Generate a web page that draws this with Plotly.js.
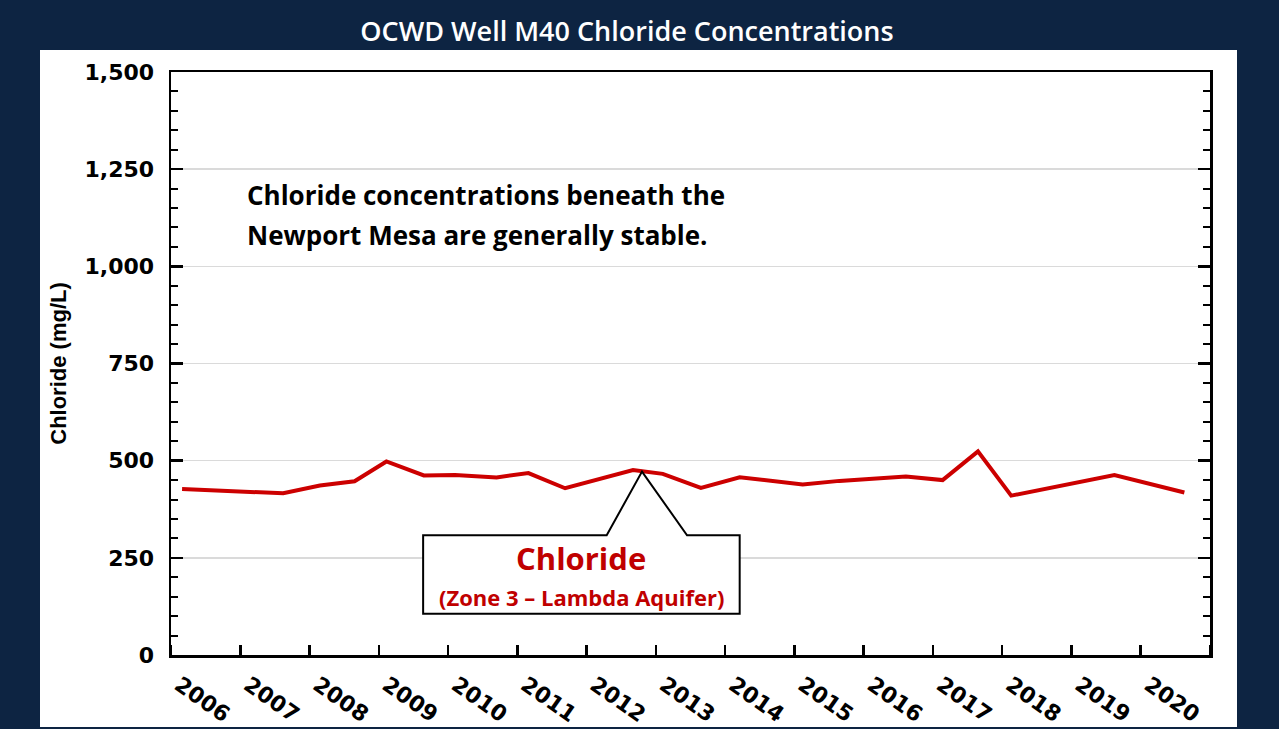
<!DOCTYPE html>
<html>
<head>
<meta charset="utf-8">
<script src="https://cdn.plot.ly/plotly-3.0.1.min.js"></script>
<style>
  html, body { margin: 0; padding: 0; background: #0d2442; }
  #chart { width: 1279px; height: 729px; }
</style>
</head>
<body>
<div id="chart"></div>
<script>
// ---- Data ----
const sampleDates = [2006.16, 2007.62, 2008.15, 2008.65, 2009.11, 2009.65, 2010.10, 2010.70,
                     2011.16, 2011.69, 2012.67, 2013.10, 2013.65, 2014.21, 2015.12, 2015.65,
                     2016.61, 2017.14, 2017.65, 2018.13, 2019.62, 2020.63];
const chlorideMgL = [427, 416, 436, 447, 498, 462, 463, 457,
                     468, 429, 476, 466, 430, 457, 439, 448,
                     459, 450, 524, 410, 463, 418];
const yearLabels = [2006, 2007, 2008, 2009, 2010, 2011, 2012, 2013, 2014, 2015, 2016, 2017, 2018, 2019, 2020];
const titleText = 'OCWD Well M40 Chloride Concentrations';
const yTitleText = 'Chloride (mg/L)';
const noteLines = ['Chloride concentrations beneath the', 'Newport Mesa are generally stable.'];
const seriesName = 'Chloride';
const seriesSub = '(Zone 3 \u2013 Lambda Aquifer)';

// ---- Styling / layout constants ----
const NAVY = '#0d2442';
const RED = '#cc0000';
const tickFont = {family: 'DejaVu Sans', size: 22, color: '#000', weight: 'bold'};

// callout geometry (layout, in axis units)
const box = {x0: 2009.64, x1: 2014.21, y0: 106, y1: 308, bx0: 2012.29, bx1: 2013.45, ax: 2012.8, ay: 472};
const calloutPath = `M ${box.bx0},${box.y1} L ${box.x0},${box.y1} L ${box.x0},${box.y0} L ${box.x1},${box.y0} ` +
                    `L ${box.x1},${box.y1} L ${box.bx1},${box.y1} L ${box.ax},${box.ay} Z`;
const boxCx = (box.x0 + box.x1) / 2;

const trace = {
  x: sampleDates,
  y: chlorideMgL,
  type: 'scatter',
  mode: 'lines',
  line: {color: RED, width: 4},
  hoverinfo: 'x+y',
  showlegend: false
};

const layout = {
  width: 1279,
  height: 729,
  paper_bgcolor: NAVY,
  plot_bgcolor: '#ffffff',
  margin: {l: 171, r: 69, t: 72, b: 74, pad: 0},
  showlegend: false,
  title: {
    text: titleText,
    font: {family: 'Open Sans', size: 27, color: '#ffffff', weight: 600},
    x: 627 / 1279, xref: 'container', xanchor: 'center',
    y: 1 - 32 / 729, yref: 'container', yanchor: 'middle'
  },
  xaxis: {
    range: [2006, 2021],
    tickmode: 'array',
    tickvals: yearLabels.map(v => v + 0.12),
    ticktext: yearLabels.map(String),
    ticks: '',
    tickangle: 35,
    tickfont: tickFont,
    ticklabelstandoff: 6,
    minor: {tick0: 2006, dtick: 1, ticks: 'inside', ticklen: 10, tickwidth: 2.5, tickcolor: '#000', showgrid: false},
    showline: true, linecolor: '#000', linewidth: 2.5, mirror: true,
    showgrid: false, zeroline: false, automargin: false, fixedrange: true
  },
  yaxis: {
    range: [0, 1500],
    tickmode: 'linear', tick0: 0, dtick: 250,
    tickformat: ',d',
    ticks: 'inside', ticklen: 12, tickwidth: 2.5, tickcolor: '#000',
    tickfont: tickFont,
    ticklabelstandoff: 10,
    minor: {dtick: 50, ticks: 'inside', ticklen: 7, tickwidth: 2, tickcolor: '#000', showgrid: false},
    showline: true, linecolor: '#000', linewidth: 2.5, mirror: 'ticks',
    showgrid: true, gridcolor: '#dadada', gridwidth: 1.5,
    zeroline: false, automargin: false, fixedrange: true,
    title: {text: yTitleText, font: {family: 'Liberation Sans', size: 22, color: '#000', weight: 'bold'}, standoff: 12}
  },
  shapes: [
    // white panel behind the chart
    {type: 'rect', xref: 'paper', yref: 'paper', layer: 'below',
     x0: (40 - 171) / 1039, x1: (1237 - 171) / 1039,
     y0: (655 - 727) / 583, y1: (655 - 50) / 583,
     fillcolor: '#ffffff', line: {width: 0}},
    // callout box with pointer
    {type: 'path', xref: 'x', yref: 'y', layer: 'above', path: calloutPath,
     fillcolor: '#ffffff', line: {color: '#000', width: 2}}
  ],
  annotations: [
    {text: noteLines[0], xref: 'x', yref: 'y', x: 2007.07, y: 1183, xanchor: 'left', yanchor: 'middle',
     showarrow: false, font: {family: 'Open Sans', size: 26, color: '#000', weight: 'bold'}},
    {text: noteLines[1], xref: 'x', yref: 'y', x: 2007.07, y: 1080, xanchor: 'left', yanchor: 'middle',
     showarrow: false, font: {family: 'Open Sans', size: 26, color: '#000', weight: 'bold'}},
    {text: seriesName, xref: 'x', yref: 'y', x: boxCx, y: 250, xanchor: 'center', yanchor: 'middle',
     showarrow: false, font: {family: 'Open Sans', size: 31, color: '#c00000', weight: 'bold'}},
    {text: seriesSub, xref: 'x', yref: 'y', x: boxCx, y: 150, xanchor: 'center', yanchor: 'middle',
     showarrow: false, font: {family: 'Open Sans', size: 22, color: '#c00000', weight: 'bold'}}
  ]
};

Plotly.newPlot('chart', [trace], layout, {staticPlot: true, displayModeBar: false});
</script>
</body>
</html>
